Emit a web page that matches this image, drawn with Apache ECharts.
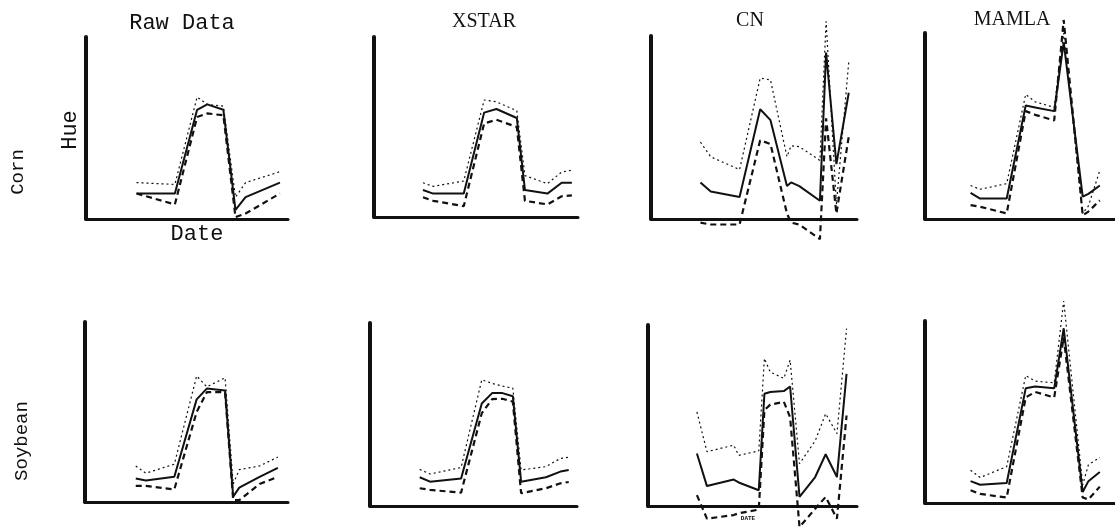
<!DOCTYPE html>
<html>
<head>
<meta charset="utf-8">
<script src="https://cdn.jsdelivr.net/npm/echarts@6/dist/echarts.min.js"></script>
<style>
html,body{margin:0;padding:0;background:#fff;}
#chart{width:1115px;height:528px;}
</style>
</head>
<body>
<div id="chart"></div>
<script>
// ---- data (date index 0-100, hue 0-100) ----
var panelTitles = ['Raw Data', 'XSTAR', 'CN', 'MAMLA'];
var rowLabels = ['Corn', 'Soybean'];

// Corn – Raw Data
var dates1 = [25, 44, 55, 60, 68, 74, 79, 96];
var hi1  = [20, 19, 67, 63, 62, 12, 20, 26];
var mid1 = [14, 14, 60, 63, 60, 5, 12, 20];
var lo1  = [14, 8, 56, 58, 57, 1, 3, 14];

// Corn – XSTAR
var dates2 = [24, 29, 44, 54, 60, 70, 74, 85, 92, 97];
var hi2  = [19, 17, 20, 65, 64, 59, 23, 18.5, 25, 26];
var mid2 = [15, 13, 13, 58, 60, 55, 15, 13, 19, 19];
var lo2  = [11, 9, 6, 52, 54, 50, 9, 7, 11.5, 12];

// Corn – CN
var dates3 = [24, 29, 43, 53, 58, 66, 68, 72, 82, 85, 90, 96];
var hi3  = [42, 34, 27, 77, 76, 34, 40, 39.5, 32, 108, 8, 86];
var mid3 = [20, 15, 12, 60, 54, 18, 20, 18, 10, 91, 30, 69];
var lo3  = [-2, -3, -3, 43, 41, 3, -2, -3, -11, 55, 3, 45];

// Corn – MAMLA
var dates4 = [24, 29, 43, 53, 58, 68, 73, 83, 86, 92];
var hi4  = [18, 16, 19, 67, 63, 60, 100, 3, 7, 26];
var mid4 = [14, 11, 11, 61, 60, 58, 95, 12, 13.5, 18];
var lo4  = [7.5, 6.6, 3, 58, 56, 53, 107, 2, 4, 10];

// Soybean – Raw Data
var dates5 = [25, 30, 44, 55, 60, 69, 73, 76, 86, 95];
var hi5  = [20, 16, 21, 70, 64, 69, 10, 18, 20, 25];
var mid5 = [13, 12, 14, 57, 63, 62, 3, 8, 14, 19];
var lo5  = [9, 9, 7, 50, 61, 61, 1, 1, 10, 14];

// Soybean – XSTAR
var dates6 = [24, 29, 44, 54, 59, 64, 69, 73, 85, 92, 96];
var hi6  = [20, 17.5, 21, 69, 67, 65.5, 64.4, 19.7, 21.5, 26, 26.6];
var mid6 = [15.7, 13.3, 15, 56, 61.7, 61.7, 60, 13.3, 15.7, 18.8, 19.7];
var lo6  = [9.7, 8.8, 7.3, 50.7, 58.4, 58.6, 57, 7, 9.7, 12.4, 13.1];

// Soybean – CN
var dates7 = [23.4, 28.2, 41, 43.4, 53, 55.7, 58.5, 65, 68, 72.5, 80, 85, 90.4, 95];
var hi7  = [52, 30, 33.6, 28, 30.4, 81.5, 74, 70.5, 80.6, 23.4, 36, 51, 40, 98];
var mid7 = [29, 11, 14.6, 13, 8.7, 62, 63, 63.5, 66, 5, 16, 28.6, 16, 73];
var lo7  = [6, -7, -5, -4, -2, 53, 56, 57.6, 49, -11.6, -1.5, 5, -7, 50];

// Soybean – MAMLA
var dates8 = [24, 29, 43, 53, 58, 68, 73, 83, 86, 92];
var hi8  = [18, 14, 20, 70, 67, 66, 111, 10, 21, 25];
var mid8 = [12, 10, 11, 63, 64, 63, 96, 6, 12, 17];
var lo8  = [7, 5, 3, 58, 61, 58, 91, 3, 2, 9];

var panels = [
  {d: dates1, hi: hi1, mid: mid1, lo: lo1},
  {d: dates2, hi: hi2, mid: mid2, lo: lo2},
  {d: dates3, hi: hi3, mid: mid3, lo: lo3},
  {d: dates4, hi: hi4, mid: mid4, lo: lo4},
  {d: dates5, hi: hi5, mid: mid5, lo: lo5},
  {d: dates6, hi: hi6, mid: mid6, lo: lo6},
  {d: dates7, hi: hi7, mid: mid7, lo: lo7},
  {d: dates8, hi: hi8, mid: mid8, lo: lo8}
];

// ---- layout ----
var gridBoxes = [
  {left: 86,  top: 37,  width: 202, height: 182},
  {left: 374, top: 37,  width: 204, height: 180},
  {left: 651, top: 36,  width: 206, height: 183},
  {left: 925, top: 33,  width: 205, height: 186},
  {left: 85,  top: 322, width: 203, height: 180},
  {left: 370, top: 323, width: 207, height: 183},
  {left: 648, top: 325, width: 209, height: 181},
  {left: 925, top: 321, width: 205, height: 182}
];

var ink = '#111';
var grids = [], xAxes = [], yAxes = [], series = [];
function pairs(d, v){ return d.map(function(x, i){ return [x, v[i]]; }); }

gridBoxes.forEach(function(b, i){
  grids.push({left: b.left, top: b.top, width: b.width, height: b.height, containLabel: false});
  xAxes.push({type: 'value', gridIndex: i, min: 0, max: 100,
    axisLine: {show: true, onZero: false, lineStyle: {color: ink, width: 3}},
    axisTick: {show: false}, axisLabel: {show: false}, splitLine: {show: false}});
  yAxes.push({type: 'value', gridIndex: i, min: 0, max: 100,
    axisLine: {show: true, lineStyle: {color: ink, width: 4}},
    axisTick: {show: false}, axisLabel: {show: false}, splitLine: {show: false}});
  var p = panels[i];
  series.push({type: 'line', xAxisIndex: i, yAxisIndex: i, data: pairs(p.d, p.hi),
    symbol: 'none', clip: false, silent: true,
    lineStyle: {color: ink, width: 1.2, type: [2, 3]}});
  series.push({type: 'line', xAxisIndex: i, yAxisIndex: i, data: pairs(p.d, p.mid),
    symbol: 'none', clip: false, silent: true,
    lineStyle: {color: ink, width: 2}});
  series.push({type: 'line', xAxisIndex: i, yAxisIndex: i, data: pairs(p.d, p.lo),
    symbol: 'none', clip: false, silent: true,
    lineStyle: {color: ink, width: 2.2, type: [6, 4]}});
});

var mono = '"Liberation Mono", "DejaVu Sans Mono", monospace';
var serif = '"Liberation Serif", "DejaVu Serif", serif';
function txt(s, x, y, font, size, rot, weight){
  return {type: 'text', x: x, y: y, rotation: rot || 0,
    style: {text: s, fill: ink, font: (weight || 'normal') + ' ' + size + 'px ' + font,
      textAlign: 'center', textVerticalAlign: 'middle'}};
}

var option = {
  backgroundColor: '#fff',
  animation: false,
  grid: grids, xAxis: xAxes, yAxis: yAxes, series: series,
  graphic: [
    txt(panelTitles[0], 182, 23, mono, 22),
    txt(panelTitles[1], 484, 22, serif, 20),
    txt(panelTitles[2], 750, 21, serif, 20),
    txt(panelTitles[3], 1012, 20, serif, 20),
    txt(rowLabels[0], 18, 172, mono, 19, Math.PI / 2),
    txt(rowLabels[1], 22, 441, mono, 19, Math.PI / 2),
    txt('Hue', 70, 130, mono, 22, Math.PI / 2),
    txt('Date', 197, 234, mono, 22),
    txt('DATE', 748, 518, mono, 6, 0, 'bold')
  ]
};

var chart = echarts.init(document.getElementById('chart'), null, {renderer: 'canvas'});
chart.setOption(option);
</script>
</body>
</html>
